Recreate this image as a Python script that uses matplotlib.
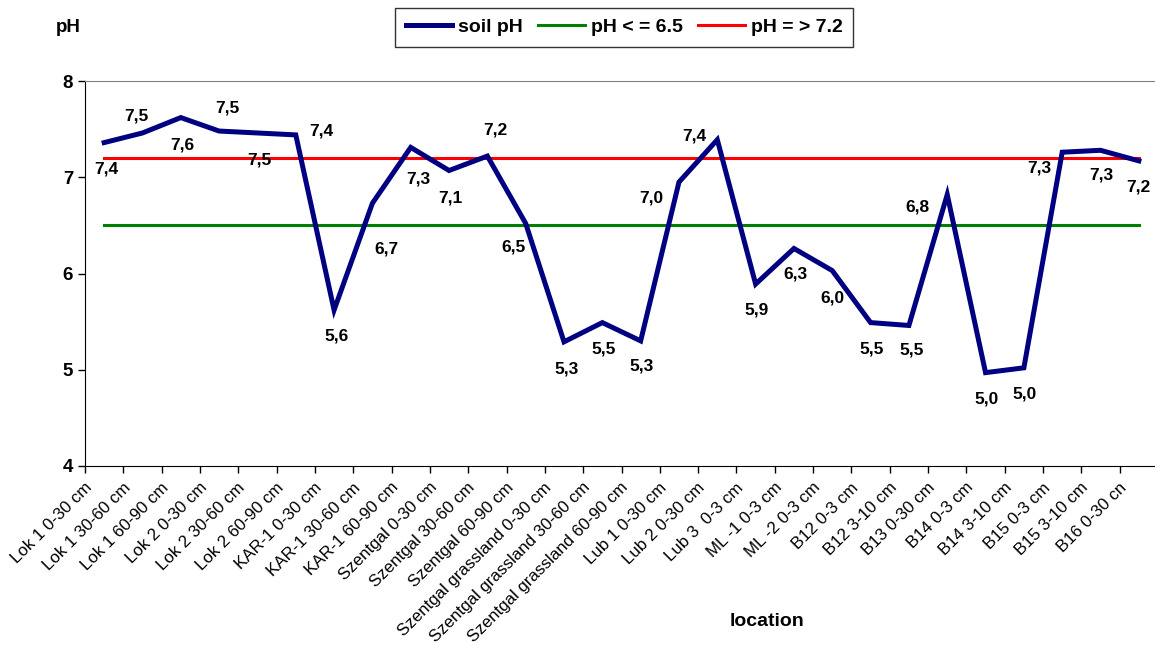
import matplotlib
matplotlib.use("Agg")
import matplotlib.pyplot as plt
import matplotlib.transforms as mtransforms
import numpy as np

plt.rcParams['font.family'] = ['Liberation Sans', 'DejaVu Sans']

# sampling locations along the x axis
locations = [
    "Lok 1 0-30 cm", "Lok 1 30-60 cm", "Lok 1 60-90 cm",
    "Lok 2 0-30 cm", "Lok 2 30-60 cm", "Lok 2 60-90 cm",
    "KAR-1 0-30 cm", "KAR-1 30-60 cm", "KAR-1 60-90 cm",
    "Szentgal 0-30 cm", "Szentgal 30-60 cm", "Szentgal 60-90 cm",
    "Szentgal grassland 0-30 cm", "Szentgal grassland 30-60 cm",
    "Szentgal grassland 60-90 cm",
    "Lub 1 0-30 cm", "Lub 2 0-30 cm", "Lub 3  0-3 cm",
    "ML -1 0-3 cm", "ML -2 0-3 cm",
    "B12 0-3 cm", "B12 3-10 cm", "B13 0-30 cm",
    "B14 0-3 cm", "B14 3-10 cm", "B15 0-3 cm", "B15 3-10 cm", "B16 0-30 cn",
]

soil_ph = [7.36, 7.46, 7.62, 7.48, 7.46, 7.44,
           5.62, 6.73, 7.31, 7.07, 7.22, 6.52,
           5.29, 5.49, 5.30, 6.95, 7.39, 5.89,
           6.26, 6.03, 5.49, 5.46, 6.82, 4.97,
           5.02, 7.26, 7.28, 7.17]

acid_limit = 6.5      # pH <= 6.5
alkaline_limit = 7.2  # pH >= 7.2

# where each value label sits relative to its point (pixels, +y = down)
label_offsets = [(2, 26), (-6, -17), (2, 27), (8, -23), (2, 27), (26, -4),
                 (2, 26), (14, 46), (8, 32), (1, 27), (8, -26), (-12, 24),
                 (3, 27), (1, 26), (1, 25), (-28, 16), (-23, -4), (1, 26),
                 (1, 26), (0, 27), (1, 26), (3, 25), (-30, 12), (1, 26),
                 (1, 26), (-23, 16), (1, 25), (0, 26)]

x = np.arange(len(locations))

fig = plt.figure(figsize=(11.55, 6.48), dpi=100)
ax = fig.add_axes([85 / 1155, 182 / 648, 1073 / 1155, 385 / 648])

ax.plot(x, soil_ph, color='#000080', lw=3.6, solid_joinstyle='miter',
        label='soil pH', zorder=3)
ax.plot(x, [acid_limit] * len(x), color='#008000', lw=2.2,
        label='pH < = 6.5', zorder=2)
ax.plot(x, [alkaline_limit] * len(x), color='#ff0000', lw=2.2,
        label='pH = > 7.2', zorder=2)

for xi, v, (dx, dy) in zip(x, soil_ph, label_offsets):
    ax.annotate(f"{v:.1f}".replace('.', ','), (xi, v),
                xytext=(dx, -dy), textcoords='offset pixels',
                ha='center', va='center', fontsize=12.5, fontweight='bold')

ax.set_xlim(-0.5, len(x) - 0.5)
ax.set_ylim(4, 8)
ax.set_yticks([4, 5, 6, 7, 8])
ax.tick_params(axis='y', labelsize=13.5, length=5, width=1, direction='out')
for lab in ax.get_yticklabels():
    lab.set_fontweight('bold')

# category labels at the centres, tick marks at the boundaries
ax.set_xticks(x)
ax.set_xticklabels(locations, rotation=45, ha='right',
                   rotation_mode='anchor', fontsize=12.2)
ax.set_xticks(np.arange(-0.5, len(x)), minor=True)
ax.tick_params(axis='x', which='major', length=0, pad=10)
ax.tick_params(axis='x', which='minor', length=5, width=1, direction='out')
shift = mtransforms.ScaledTranslation(-0.20, 0.0, fig.dpi_scale_trans)
for lab in ax.get_xticklabels():
    lab.set_transform(lab.get_transform() + shift)

for side in ('top', 'right'):
    ax.spines[side].set_color('#808080')
ax.spines['left'].set_color('black')
ax.spines['bottom'].set_color('black')

fig.text(68 / 1155, 1 - 27 / 648, 'pH', ha='center', va='center',
         fontsize=13.5, fontweight='bold')
fig.text(767 / 1155, 1 - 622 / 648, 'location', ha='center', va='center',
         fontsize=14, fontweight='bold')

leg = fig.legend(loc='upper center', bbox_to_anchor=(624 / 1155, 1 - 8 / 648),
                 ncol=3, frameon=True, fancybox=False, edgecolor='black',
                 handlelength=2.4, handletextpad=0.3, columnspacing=0.8,
                 borderpad=0.55, borderaxespad=0,
                 prop={'weight': 'bold', 'size': 14})
leg.get_frame().set_linewidth(1.0)

fig.savefig('out.png', dpi=100)
